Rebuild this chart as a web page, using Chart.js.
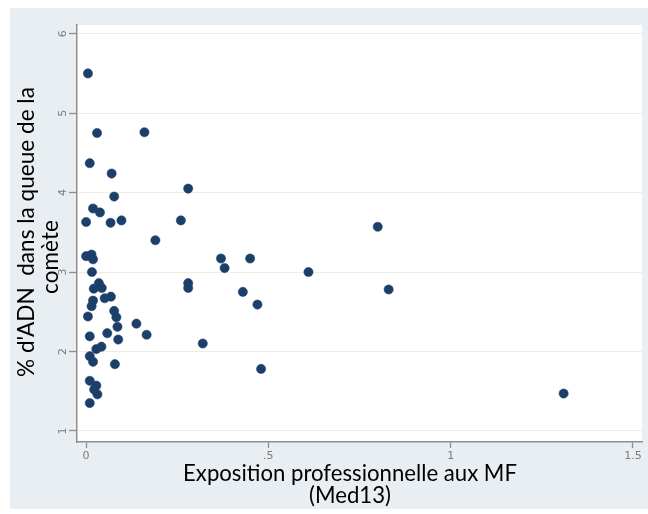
<!DOCTYPE html>
<html>
<head>
<meta charset="utf-8">
<script src="https://cdn.jsdelivr.net/npm/chart.js@4"></script>
<style>
  html, body { margin: 0; padding: 0; background: #ffffff; }
  #wrap { width: 648px; height: 514px; }
  canvas { display: block; }
</style>
</head>
<body>
<div id="wrap"><canvas id="c" width="648" height="514"></canvas></div>
<script>
// Occupational exposure (Med13) and % tail DNA for each subject
const expoMF = [
  0.005, 0.03, 0.16, 0.01, 0.07, 0.28, 0.077, 0.019, 0.038, 0.0,
  0.067, 0.097, 0.26, 0.19, 0.0, 0.015, 0.019, 0.016, 0.37, 0.45,
  0.38, 0.61, 0.80, 0.035, 0.021, 0.28, 0.28, 0.83, 0.43, 0.068,
  0.051, 0.019, 0.47, 0.015, 0.077, 0.005, 0.083, 0.138, 0.086, 0.058,
  0.01, 0.166, 0.088, 0.32, 0.042, 0.028, 0.01, 0.019, 0.079, 0.48,
  0.01, 0.028, 0.022, 0.031, 0.01, 1.31, 0.043
];
const adnQueue = [
  5.50, 4.75, 4.76, 4.37, 4.24, 4.05, 3.95, 3.80, 3.75, 3.63,
  3.62, 3.65, 3.65, 3.40, 3.20, 3.22, 3.16, 3.00, 3.17, 3.17,
  3.05, 3.00, 3.57, 2.86, 2.79, 2.86, 2.80, 2.78, 2.75, 2.69,
  2.67, 2.64, 2.59, 2.57, 2.51, 2.44, 2.43, 2.35, 2.31, 2.23,
  2.19, 2.21, 2.15, 2.10, 2.06, 2.03, 1.94, 1.87, 1.84, 1.78,
  1.63, 1.57, 1.52, 1.46, 1.35, 1.47, 2.80
];

const xTickValues = [0, 0.5, 1, 1.5];
const xTickLabels = ['0', '.5', '1', '1.5'];
const yTickValues = [1, 2, 3, 4, 5, 6];
const yTickLabels = ['1', '2', '3', '4', '5', '6'];
const xTitleLines = ['Exposition professionnelle aux MF', '(Med13)'];
const yTitleLines = ["% d'ADN  dans la queue de la", 'comète'];

const points = expoMF.map((x, i) => ({ x: x, y: adnQueue[i] }));

const TITLE_FONT = 'Lato, "Open Sans", sans-serif';
const TICK_COLOR = '#7c7c7c';
const AXIS_COLOR = '#8e8e8e';

// font size that makes a string span a given width
function fitSize(ctx, text, family, width) {
  ctx.font = '100px ' + family;
  return 100 * width / ctx.measureText(text).width;
}

// grey-blue panel behind a white plotting region
const panelBackground = {
  id: 'panelBackground',
  beforeDraw(chart) {
    const { ctx, chartArea: a } = chart;
    ctx.save();
    ctx.fillStyle = '#ffffff';
    ctx.fillRect(0, 0, chart.width, chart.height);
    ctx.fillStyle = '#e9eef3';
    ctx.fillRect(10, 8, chart.width - 10, 501);
    ctx.fillStyle = '#ffffff';
    ctx.fillRect(a.left, a.top, a.right - a.left, a.bottom - a.top);
    ctx.restore();
  }
};

// rotated y tick labels and the two axis titles
const axisText = {
  id: 'axisText',
  afterDraw(chart) {
    const { ctx } = chart;
    const ys = chart.scales.y;
    ctx.save();
    ctx.fillStyle = TICK_COLOR;
    ctx.font = '11px "DejaVu Sans", sans-serif';
    ctx.textAlign = 'center';
    ctx.textBaseline = 'middle';
    ys.ticks.forEach((t) => {
      const py = ys.getPixelForValue(t.value);
      ctx.save();
      ctx.translate(63, py);
      ctx.rotate(-Math.PI / 2);
      ctx.fillText(yTickLabels[yTickValues.indexOf(t.value)], 0, 0);
      ctx.restore();
    });

    ctx.fillStyle = '#000000';
    ctx.textBaseline = 'alphabetic';
    // x title
    const xs = fitSize(ctx, xTitleLines[0], TITLE_FONT, 334);
    ctx.font = xs.toFixed(2) + 'px ' + TITLE_FONT;
    ctx.fillText(xTitleLines[0], 350, 481);
    ctx.fillText(xTitleLines[1], 350, 503);

    // y title
    const ysz = fitSize(ctx, yTitleLines[0], TITLE_FONT, 290);
    ctx.font = ysz.toFixed(2) + 'px ' + TITLE_FONT;
    ctx.save();
    ctx.translate(34, 232);
    ctx.rotate(-Math.PI / 2);
    ctx.fillText(yTitleLines[0], 0, 0);
    ctx.restore();
    ctx.save();
    ctx.translate(58, 257);
    ctx.rotate(-Math.PI / 2);
    ctx.fillText(yTitleLines[1], 0, 0);
    ctx.restore();
    ctx.restore();
  }
};

new Chart(document.getElementById('c'), {
  type: 'scatter',
  data: {
    datasets: [{
      data: points,
      backgroundColor: '#1c3f6a',
      borderColor: 'rgba(28,63,106,0.55)',
      borderWidth: 1,
      pointRadius: 4.6,
      pointHoverRadius: 4.6
    }]
  },
  options: {
    responsive: false,
    animation: false,
    devicePixelRatio: 1,
    layout: { padding: { top: 25, right: 6, left: 0, bottom: 0 } },
    plugins: { legend: { display: false }, tooltip: { enabled: false } },
    scales: {
      x: {
        type: 'linear',
        min: -0.025,
        max: 1.525,
        afterBuildTicks(s) { s.ticks = xTickValues.map(v => ({ value: v })); },
        afterFit(s) { s.height = 72; },
        ticks: {
          autoSkip: false,
          maxRotation: 0,
          padding: 2,
          color: TICK_COLOR,
          font: { size: 11, family: '"DejaVu Sans", sans-serif' },
          callback: (v) => xTickLabels[xTickValues.indexOf(v)]
        },
        grid: { drawOnChartArea: false, tickLength: 6, tickColor: AXIS_COLOR, tickWidth: 1.3 },
        border: { color: AXIS_COLOR, width: 1.5 }
      },
      y: {
        type: 'linear',
        min: 0.86,
        max: 6.11,
        afterBuildTicks(s) { s.ticks = yTickValues.map(v => ({ value: v })); },
        afterFit(s) { s.width = 77; },
        ticks: { display: false },
        grid: { color: '#efece6', lineWidth: 1, tickLength: 8, tickColor: AXIS_COLOR, tickWidth: 1.3 },
        border: { color: AXIS_COLOR, width: 1.5 }
      }
    }
  },
  plugins: [panelBackground, axisText]
});
</script>
</body>
</html>
